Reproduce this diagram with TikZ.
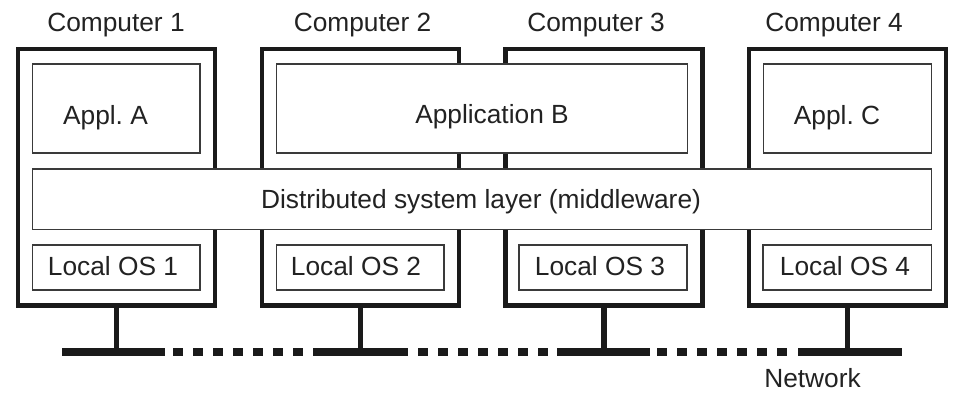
\documentclass[tikz,border=0pt]{standalone}
\usepackage{fontspec}
\setmainfont{Liberation Sans}
\frenchspacing
\definecolor{ink}{HTML}{1A1A1A}
\definecolor{txt}{HTML}{222222}
\definecolor{thin}{HTML}{3A3A3A}
\begin{document}
\begin{tikzpicture}[x=1pt,y=-1pt,
  compbox/.style={draw=ink, line width=4.6pt, inner sep=0pt, minimum width=197pt, minimum height=256.5pt},
  layerbox/.style={draw=thin, line width=1.3pt, fill=white, inner sep=0pt},
  lbl/.style={text=txt, font=\fontsize{26.3}{30}\selectfont, anchor=base, inner sep=0pt},
  bus/.style={draw=ink, line width=8pt},
  stub/.style={draw=ink, line width=5.5pt}]
\fill[white] (0,0) rectangle (965,408);
\useasboundingbox (0,0) rectangle (965,408);

% computers
\node[compbox] (c1) at (116.5,177.25) {};
\node[compbox] (c2) at (360.5,177.25) {};
\node[compbox] (c3) at (604,177.25) {};
\node[compbox] (c4) at (847.5,177.25) {};

% application layer
\node[layerbox, minimum width=167.5pt, minimum height=89pt] (appA) at (116.25,108.5) {};
\node[layerbox, minimum width=411pt, minimum height=89pt] (appB) at (482,108.5) {};
\node[layerbox, minimum width=168pt, minimum height=89pt] (appC) at (847.5,108.5) {};

% middleware layer
\node[layerbox, minimum width=899pt, minimum height=60.5pt] (mw) at (482,199.25) {};

% local operating systems
\node[layerbox, minimum width=167.5pt, minimum height=45pt] (os1) at (116.25,267.5) {};
\node[layerbox, minimum width=167.5pt, minimum height=45pt] (os2) at (360.25,267.5) {};
\node[layerbox, minimum width=168pt, minimum height=45pt] (os3) at (603,267.5) {};
\node[layerbox, minimum width=168.5pt, minimum height=45pt] (os4) at (847.25,267.5) {};

% labels
\node[lbl] (t1) at (116,31) {Computer 1};
\node[lbl] (t2) at (362.5,31) {Computer 2};
\node[lbl] (t3) at (596,31) {Computer 3};
\node[lbl] (t4) at (834,31) {Computer 4};
\node[lbl] (tA) at (105.5,124) {Appl. A};
\node[lbl] (tB) at (492,123.5) {Application B};
\node[lbl] (tC) at (837,124) {Appl. C};
\node[lbl] (tmw) at (481,208) {Distributed system layer (middleware)};
\node[lbl] (to1) at (113,275) {Local OS 1};
\node[lbl] (to2) at (356,275) {Local OS 2};
\node[lbl] (to3) at (600,275) {Local OS 3};
\node[lbl] (to4) at (845,275) {Local OS 4};
\node[lbl] (tnet) at (812.5,387) {Network};

% network bus: solid around each tap, dashed in between
\coordinate (bus) at (0,352);
\foreach \a/\b in {62/165,313/408,557/650,798/902}
  \draw[bus] (\a,352) -- (\b,352);
\foreach \a/\b in {173/303,418/548,657/787}
  \draw[bus, dash pattern=on 10pt off 10pt] (\a,352) -- (\b,352);

% taps from each computer to the bus
\foreach \c in {c1,c2,c3,c4}
  \draw[stub] (\c.south) -- (\c.south |- bus);
\end{tikzpicture}
\end{document}
